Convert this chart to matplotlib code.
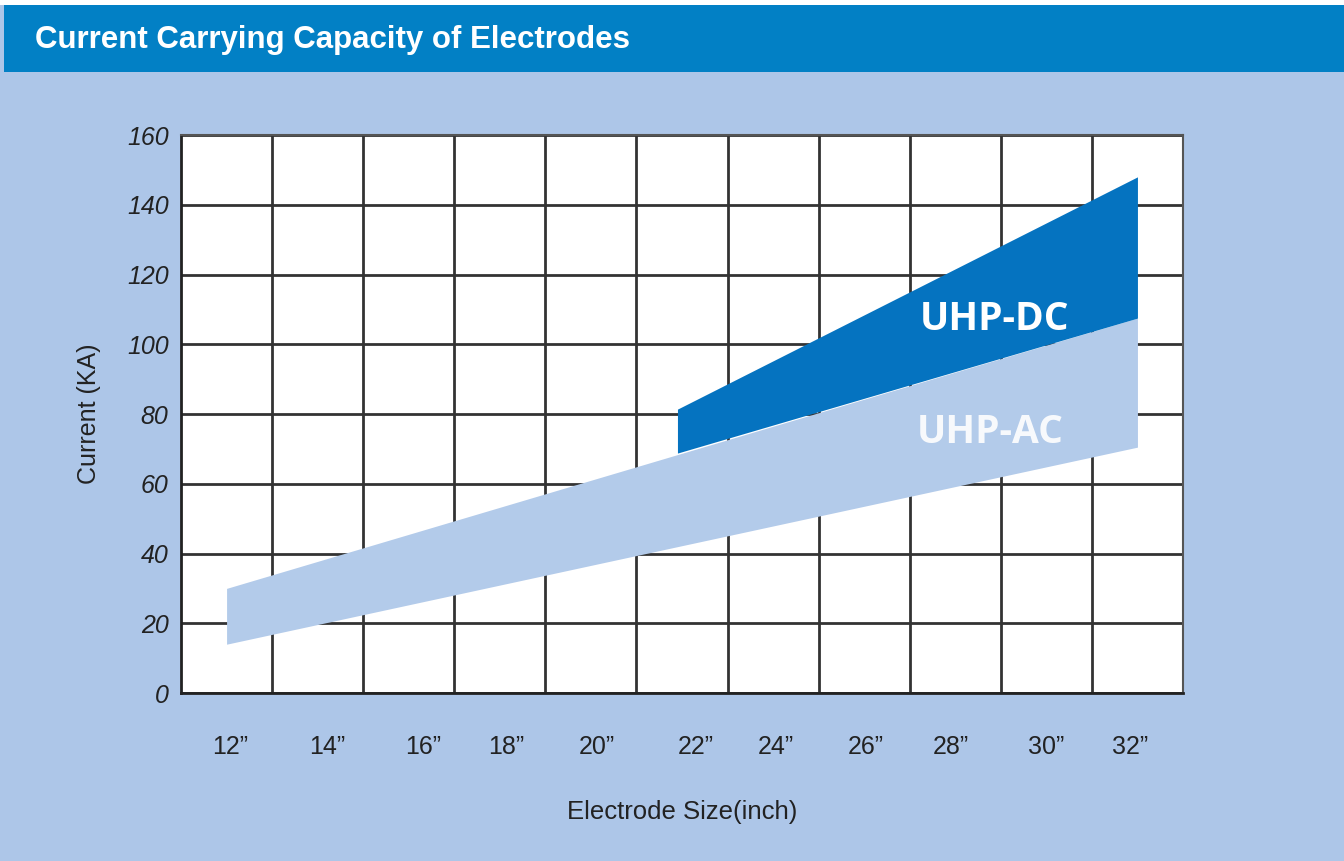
import matplotlib.pyplot as plt
from matplotlib.patches import Rectangle

# electrode sizes (inch) and current bands (KA)
ac_size = [12, 32]
ac_low = [14, 70.5]
ac_high = [30, 107.5]

dc_size = [21.9, 32]
dc_low = [68.8, 107.5]
dc_high = [81.4, 148]

size_labels = ['12”', '14”', '16”', '18”', '20”', '22”', '24”', '26”', '28”', '30”', '32”']
# where the labels sit along the axis (they drift a bit in the original)
label_pos = [12.08, 14.2, 16.31, 18.13, 20.13, 22.3, 24.05, 26.03, 27.9, 29.99, 31.83]
y_ticks = [0, 20, 40, 60, 80, 100, 120, 140, 160]

BG = '#adc6e8'
HEADER = '#0280c5'
DC_COL = '#0573c0'
AC_COL = '#b3cbea'

plt.rcParams['font.family'] = ['Liberation Sans', 'DejaVu Sans']

fig = plt.figure(figsize=(13.44, 8.61), dpi=100)
fig.patch.set_facecolor(BG)

# header band
fig.patches.append(Rectangle((0, 0.994), 1, 0.006, transform=fig.transFigure,
                             facecolor='white', edgecolor='none', zorder=0))
fig.patches.append(Rectangle((0.003, 0.916), 0.997, 0.078, transform=fig.transFigure,
                             facecolor=HEADER, edgecolor='none', zorder=0))
fig.text(0.026, 0.953, 'Current Carrying Capacity of Electrodes', color='white',
         fontsize=22.5, fontweight='bold', va='center', ha='left')

ax = fig.add_axes([0.1347, 0.1951, 0.7455, 0.6481])
ax.set_facecolor('white')
ax.set_xlim(11, 33)
ax.set_ylim(0, 160)
ax.set_axisbelow(True)

ax.fill_between(ac_size, ac_low, ac_high, color=AC_COL, linewidth=0, zorder=2)
ax.fill_between(dc_size, dc_low, dc_high, color=DC_COL, linewidth=0, zorder=3)

ax.text(28.87, 107, 'UHP-DC', color='white', fontsize=28, fontweight='bold',
        family=['Open Sans', 'DejaVu Sans'], ha='center', va='center', zorder=4)
ax.text(28.76, 74.6, 'UHP-AC', color='white', alpha=0.9, fontsize=28, fontweight='bold',
        family=['Open Sans', 'DejaVu Sans'], ha='center', va='center', zorder=4)

# grid: 11 equal columns, lines every 20 KA
ax.set_xticks(range(13, 33, 2), minor=True)
ax.set_xticks(label_pos)
ax.set_xticklabels(size_labels, fontsize=18, color='#222222')
ax.set_yticks(y_ticks)
ax.set_yticklabels([str(v) for v in y_ticks], fontsize=18, style='italic', color='#222222')
ax.grid(which='minor', axis='x', color='#333333', linewidth=2)
ax.grid(which='major', axis='y', color='#333333', linewidth=2)
ax.tick_params(axis='both', which='both', length=0)
ax.tick_params(axis='x', pad=30)
ax.tick_params(axis='y', pad=9)
for side in ['left', 'bottom']:
    ax.spines[side].set_color('#222222')
    ax.spines[side].set_linewidth(2)
for side in ['right', 'top']:
    ax.spines[side].set_color('#555555')
    ax.spines[side].set_linewidth(1.5)

ax.set_xlabel('Electrode Size(inch)', fontsize=18.5, color='#222222', labelpad=30)
ax.set_ylabel('Current (KA)', fontsize=18, color='#222222', labelpad=19)

fig.savefig('out.png', dpi=100, facecolor=BG)
